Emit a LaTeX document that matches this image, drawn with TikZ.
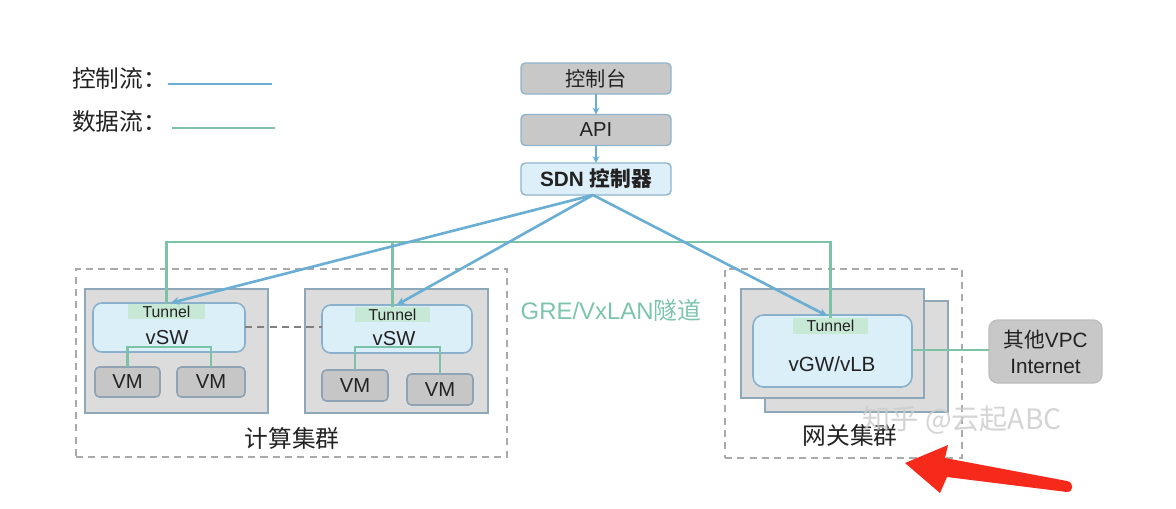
\documentclass[tikz,border=0pt]{standalone}
\usepackage{fontspec}
\setmainfont{Liberation Sans}
\newfontfamily\cjk{Noto Sans CJK SC}
\usetikzlibrary{arrows.meta,calc}
\definecolor{ctrl}{HTML}{6AAFD3}
\definecolor{datac}{HTML}{7CC2A6}
\definecolor{gretxt}{HTML}{7CC4AB}
\definecolor{txt}{HTML}{222222}
\definecolor{boxgray}{HTML}{C8C8C8}
\definecolor{boxline}{HTML}{8FB3CB}
\definecolor{sdnfill}{HTML}{DDF0FA}
\definecolor{hostgray}{HTML}{DCDCDC}
\definecolor{hostline}{HTML}{8EA8BA}
\definecolor{vswfill}{HTML}{DBEFF9}
\definecolor{vswline}{HTML}{8AB0CB}
\definecolor{tunfill}{HTML}{C8E8D6}
\definecolor{vmfill}{HTML}{C6C6C6}
\definecolor{vmline}{HTML}{8FA3B5}
\definecolor{dashgray}{HTML}{AAAAAA}
\definecolor{othline}{HTML}{BDBDBD}
\definecolor{redarr}{HTML}{F52A1A}
\newdimen\pxu \pxu=0.02cm
\newcommand\myfs[1]{\fontsize{#1}{#1}\selectfont}
\begin{document}
\begin{tikzpicture}[x=0.02cm,y=-0.02cm,
  every node/.style={text=txt, inner sep=0pt, outer sep=0pt},
  topbox/.style={draw=boxline, line width=0.8pt, fill=boxgray, rounded corners=2.5pt,
    minimum width=150\pxu, minimum height=31\pxu, font=\myfs{11.5}},
  cluster/.style={draw=dashgray, dashed, dash pattern=on 4pt off 3pt, line width=0.6pt},
  hostbox/.style={draw=hostline, fill=hostgray, line width=0.9pt},
  vswbox/.style={draw=vswline, fill=vswfill, line width=0.9pt, rounded corners=5pt},
  tunbox/.style={fill=tunfill, font=\myfs{9}},
  vmbox/.style={draw=vmline, fill=vmfill, line width=0.9pt, rounded corners=2.5pt, font=\myfs{11.5}},
  ctrlline/.style={draw=ctrl, line width=1.5pt},
  ctrlarrow/.style={ctrlline, -{Stealth[length=5pt,width=4.5pt]}},
  dataline/.style={draw=datac, line width=1.4pt},
  lbl/.style={font=\myfs{13.5}\cjk}
]
\useasboundingbox (0,0) rectangle (1176,508);

% legend
\node[lbl, anchor=west] (lgc) at (72,78) {控制流：};
\coordinate (lgc1) at (168,84); \coordinate (lgc2) at (272,84);
\draw[ctrlline, line width=1.3pt] (lgc1) -- (lgc2);
\node[lbl, anchor=west] (lgd) at (72,122) {数据流：};
\coordinate (lgd1) at (172,128); \coordinate (lgd2) at (275,128);
\draw[dataline] (lgd1) -- (lgd2);

% control stack
\node[topbox] (console) at (596,78.5) {\cjk 控制台};
\node[topbox] (api) at (596,130) {API};
\node[topbox, fill=sdnfill, minimum height=32\pxu, font=\myfs{11.8}\bfseries] (sdn) at (596,179) {SDN {\cjk 控制器}};
\draw[ctrlarrow, line width=1pt, -{Stealth[length=4pt,width=4pt]}] (console.south) -- (api.north);
\draw[ctrlarrow, line width=1pt, -{Stealth[length=4pt,width=4pt]}] (api.south) -- (sdn.north);

% compute cluster
\node[cluster, minimum width=431\pxu, minimum height=188\pxu] (cc) at (291.5,363) {};
\node[hostbox, minimum width=183\pxu, minimum height=124\pxu] (host1) at (176.5,351) {};
\node[hostbox, minimum width=183\pxu, minimum height=124\pxu] (host2) at (396.5,351) {};
\node[vswbox, minimum width=152\pxu, minimum height=49\pxu] (vsw1) at (169,327.5) {};
\node[vswbox, minimum width=150\pxu, minimum height=48\pxu] (vsw2) at (397,329) {};
\node[tunbox, minimum width=77\pxu, minimum height=15\pxu] (tun1) at (166.5,311.5) {Tunnel};
\node[tunbox, minimum width=75\pxu, minimum height=15\pxu] (tun2) at (392.5,314.5) {Tunnel};
\node[font=\myfs{11.5}] (vswt1) at (167,338) {vSW};
\node[font=\myfs{11.5}] (vswt2) at (394,339) {vSW};
\node[vmbox, minimum width=65\pxu, minimum height=30\pxu] (vm11) at (127.5,382) {VM};
\node[vmbox, minimum width=68\pxu, minimum height=30\pxu] (vm12) at (211,382) {VM};
\node[vmbox, minimum width=66\pxu, minimum height=31\pxu] (vm21) at (355,385.5) {VM};
\node[vmbox, minimum width=66\pxu, minimum height=31\pxu] (vm22) at (440,389.5) {VM};
\coordinate (bar1) at (0,347);
\coordinate (bar2) at (0,347);
\draw[dataline] (vm11.north) -- (vm11.north |- bar1) -| (vm12.north);
\draw[dataline] (vm21.north) -- (vm21.north |- bar2) -| (vm22.north);
\draw[draw=gray, dashed, dash pattern=on 4pt off 3pt, line width=0.7pt] (vsw1.east |- 0,327) -- (vsw2.west |- 0,327);
\node[lbl] (cclabel) at (292,438) {计算集群};

% GRE label
\node[font=\myfs{13.6}, text=gretxt] (gre) at (611,310) {GRE/VxLAN{\cjk 隧道}};

% gateway cluster
\node[cluster, minimum width=237\pxu, minimum height=189\pxu] (gc) at (843.5,363.5) {};
\node[hostbox, minimum width=183\pxu, minimum height=111\pxu] (gwback) at (856.5,356.5) {};
\node[hostbox, minimum width=183\pxu, minimum height=109\pxu] (gwfront) at (832.5,343.5) {};
\node[vswbox, minimum width=159\pxu, minimum height=72\pxu, rounded corners=6pt] (vgw) at (832.5,351) {};
\node[tunbox, minimum width=75\pxu, minimum height=16\pxu] (tun3) at (830.5,326) {Tunnel};
\node[font=\myfs{11.7}] (vgwt) at (832,364) {vGW/vLB};
\node[draw=othline, fill=boxgray, line width=0.8pt, rounded corners=5pt,
      minimum width=113\pxu, minimum height=63\pxu, align=center, font=\myfs{11.8}] (other) at (1045.5,351.5)
      {{\cjk 其他}VPC\\[3pt]Internet};
\node[lbl] (gclabel) at (850,435) {网关集群};
\draw[dataline] (vgw.east |- 0,350) -- (other.west |- 0,350);

% data bus
\coordinate (bus) at (0,242);
\draw[dataline] (tun1.north) -- (tun1.north |- bus) -| (tun3.north);
\draw[dataline] (tun2.north) -- (tun2.north |- bus);

% control arrows
\coordinate (sdnout) at ($(sdn.south)+(-3,0)$);
\draw[ctrlarrow] (sdnout) -- ($(tun1.north)+(4,-1)$);
\draw[ctrlarrow] (sdnout) -- ($(tun2.north)+(4,-2)$);
\draw[ctrlarrow] (sdnout) -- ($(tun3.north)+(-3,-2)$);

% watermark
\node[font=\myfs{16}\cjk, text=gray!40, opacity=0.85] (wm) at (962,420) {知乎 @云起ABC};

% red arrow
\fill[redarr] (905,463) -- (948,445) -- (945,458) -- (1067,481)
  .. controls (1074,482) and (1074,492) .. (1067,492)
  -- (947,477) -- (940,493) -- cycle;
\end{tikzpicture}
\end{document}
